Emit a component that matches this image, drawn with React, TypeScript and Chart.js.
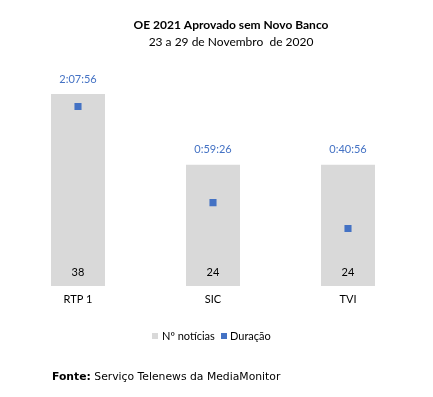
import React, { useEffect, useRef } from "react";
import { Chart, registerables } from "chart.js";

Chart.register(...registerables);

const categories = ["RTP 1", "SIC", "TVI"];
const noticias = [38, 24, 24];
const duracaoSeg = [7676, 3566, 2456]; // 2:07:56, 0:59:26, 0:40:56
const seriesLabels = ["Nº notícias", "Duração"];
const titleText = "OE 2021 Aprovado sem Novo Banco";
const subtitleText = "23 a 29 de Novembro  de 2020";
const fonteBold = "Fonte:";
const fonteText = " Serviço Telenews da MediaMonitor";

const GRAY = "#d9d9d9";
const BLUE = "#4472C4";
const FONT = "Lato, 'Open Sans', sans-serif";

function fmt(s: number): string {
  const h = Math.floor(s / 3600);
  const m = Math.floor((s % 3600) / 60);
  const sec = s % 60;
  return `${h}:${String(m).padStart(2, "0")}:${String(sec).padStart(2, "0")}`;
}

const overlay = {
  id: "overlay",
  afterDraw(chart: any) {
    const ctx = chart.ctx;
    ctx.save();
    // title
    ctx.fillStyle = "#000";
    ctx.textAlign = "center";
    ctx.textBaseline = "middle";
    ctx.font = `bold 12px ${FONT}`;
    ctx.fillText(titleText, 231, 25);
    ctx.font = `12px ${FONT}`;
    ctx.fillText(subtitleText, 231, 42);

    const barMeta = chart.getDatasetMeta(1);
    const yScale = chart.scales.y;
    const base = yScale.getPixelForValue(0);
    barMeta.data.forEach((bar: any, i: number) => {
      ctx.font = `11px ${FONT}`;
      ctx.fillStyle = BLUE;
      ctx.fillText(fmt(duracaoSeg[i]), bar.x, bar.y - 15);
      ctx.fillStyle = "#000";
      ctx.fillText(String(noticias[i]), bar.x, base - 13.5);
    });

    // legend
    ctx.textAlign = "left";
    ctx.font = `11px ${FONT}`;
    ctx.fillStyle = GRAY;
    ctx.fillRect(152, 333, 6, 6);
    ctx.fillStyle = "#000";
    ctx.fillText(seriesLabels[0], 162, 336);
    ctx.fillStyle = BLUE;
    ctx.fillRect(221, 333, 6, 6);
    ctx.fillStyle = "#000";
    ctx.fillText(seriesLabels[1], 230, 336);

    // footer
    ctx.font = `bold 10.8px 'DejaVu Sans', sans-serif`;
    ctx.fillText(fonteBold, 52, 377);
    const w = ctx.measureText(fonteBold).width;
    ctx.font = `10.8px 'DejaVu Sans', sans-serif`;
    ctx.fillText(fonteText, 52 + w, 377);
    ctx.restore();
  },
};

export default function App() {
  const ref = useRef<HTMLCanvasElement>(null);
  useEffect(() => {
    if (!ref.current) return;
    const chart = new Chart(ref.current, {
      type: "bar",
      data: {
        labels: categories,
        datasets: [
          {
            type: "line",
            label: seriesLabels[1],
            data: duracaoSeg,
            yAxisID: "y1",
            showLine: false,
            pointStyle: "rect",
            pointRadius: 5,
            pointBorderWidth: 0,
            backgroundColor: BLUE,
            borderColor: BLUE,
            order: 0,
          } as any,
          {
            type: "bar",
            label: seriesLabels[0],
            data: noticias,
            yAxisID: "y",
            backgroundColor: GRAY,
            categoryPercentage: 1,
            barPercentage: 0.4,
            order: 1,
          },
        ],
      },
      options: {
        responsive: false,
        animation: false,
        layout: { padding: { top: 84, left: 10.5, right: 17.5, bottom: 91 } },
        plugins: {
          legend: { display: false },
          tooltip: { enabled: false },
          title: { display: false },
        },
        scales: {
          x: {
            grid: { display: false, drawTicks: false },
            border: { display: false },
            ticks: { padding: 7, color: "#000", font: { family: FONT, size: 11 } },
            afterFit: (s: any) => { s.height = 20; },
          },
          y: { display: false, min: 0, max: 40 },
          y1: { display: false, min: 0, max: 8640, position: "right" },
        },
      },
      plugins: [overlay],
    });
    return () => chart.destroy();
  }, []);
  return (
    <div style={{ position: "absolute", left: 0, top: 0, width: 433, height: 397, background: "#fff" }}>
      <canvas ref={ref} width={433} height={397} />
    </div>
  );
}
